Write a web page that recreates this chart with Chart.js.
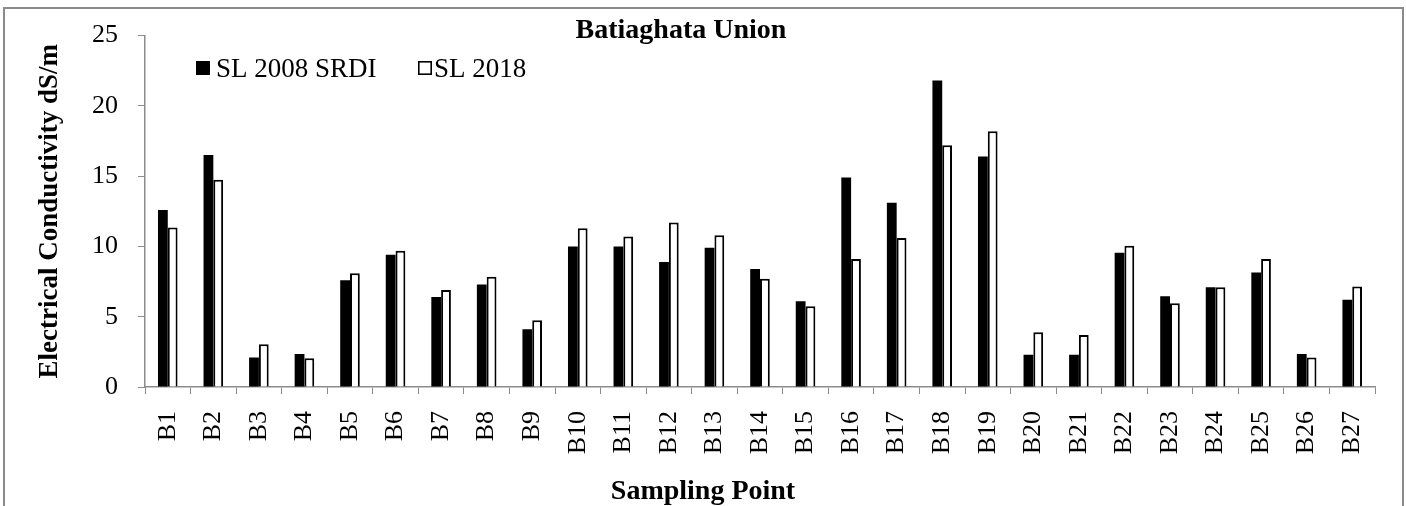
<!DOCTYPE html>
<html>
<head>
<meta charset="utf-8">
<script src="https://cdn.jsdelivr.net/npm/chart.js@4"></script>
<style>
  html, body { margin: 0; padding: 0; background: #fff; }
  #wrap { position: relative; width: 1406px; height: 506px; overflow: hidden; }
  #frame { position: absolute; left: 3px; top: 7px; width: 1397px; height: 600px; border: 2px solid #8a8a8a; pointer-events: none; }
</style>
</head>
<body>
<div id="wrap">
  <canvas id="chart" width="1406" height="506"></canvas>
  <div id="frame"></div>
</div>
<script>
const categories = ['B1', 'B2', 'B3', 'B4', 'B5', 'B6', 'B7', 'B8', 'B9', 'B10', 'B11', 'B12', 'B13', 'B14',
    'B15', 'B16', 'B17', 'B18', 'B19', 'B20', 'B21', 'B22', 'B23', 'B24', 'B25', 'B26', 'B27'];
const sl2008 = [12.6, 16.5, 2.1, 2.35, 7.6, 9.4, 6.4, 7.3, 4.1, 10.0, 10.0, 8.9, 9.9, 8.4,
    6.1, 14.9, 13.1, 21.8, 16.4, 2.3, 2.3, 9.55, 6.45, 7.1, 8.15, 2.35, 6.2];
const sl2018 = [11.35, 14.75, 3.05, 2.05, 8.1, 9.7, 6.9, 7.85, 4.75, 11.3, 10.7, 11.7, 10.8, 7.7,
    5.75, 9.1, 10.6, 17.2, 18.2, 3.9, 3.7, 10.05, 5.95, 7.1, 9.1, 2.1, 7.15];
const yTicks = [0, 5, 10, 15, 20, 25];
const seriesNames = ['SL 2008 SRDI', 'SL 2018'];

const chartTitle = 'Batiaghata Union';
const xTitle = 'Sampling Point';
const yTitle = 'Electrical Conductivity dS/m';

const serif = '"Liberation Serif", "Times New Roman", serif';
const axisGrey = '#8c8c8c';

// title, legend and x axis title sit inside the frame, drawn on top
const overlay = {
    id: 'overlay',
    afterDraw(chart) {
        const ctx = chart.ctx;
        ctx.save();
        ctx.fillStyle = '#000';
        ctx.textBaseline = 'alphabetic';
        ctx.textAlign = 'center';
        ctx.font = 'bold 28px ' + serif;
        ctx.fillText(chartTitle, 681, 38);
        ctx.fillText(xTitle, 703, 499);

        const legendX = [196, 418];
        const textGap = [20, 16];
        ctx.font = '27px ' + serif;
        ctx.textAlign = 'left';
        chart.data.datasets.forEach((ds, i) => {
            const x = legendX[i];
            ctx.fillStyle = ds.backgroundColor;
            ctx.fillRect(x, 61, 14, 14);
            if (ds.borderWidth) {
                ctx.strokeStyle = ds.borderColor;
                ctx.lineWidth = 1.6;
                ctx.strokeRect(x + 0.8, 61.8, 12.4, 12.4);
            }
            ctx.fillStyle = '#000';
            ctx.fillText(ds.label, x + textGap[i], 77);
        });
        ctx.restore();
    }
};

const data = {
    labels: categories,
    datasets: [
        {
            label: seriesNames[0],
            data: sl2008,
            backgroundColor: '#000000',
            borderWidth: 0,
        },
        {
            label: seriesNames[1],
            data: sl2018,
            backgroundColor: '#ffffff',
            borderColor: '#000000',
            borderWidth: 2,
        }
    ]
};

const config = {
    type: 'bar',
    data: data,
    plugins: [overlay],
    options: {
        responsive: false,
        devicePixelRatio: 1,
        animation: false,
        layout: {
            padding: { left: 0, right: 31, top: 30, bottom: 0 }
        },
        datasets: {
            bar: {
                categoryPercentage: 0.43,
                barPercentage: 1.0,
            }
        },
        plugins: {
            legend: { display: false },
            title: { display: false },
            tooltip: { enabled: false },
        },
        scales: {
            x: {
                grid: {
                    display: true,
                    drawOnChartArea: false,
                    drawTicks: true,
                    tickLength: 7,
                    color: axisGrey,
                    offset: true,
                },
                border: { display: true, color: axisGrey, width: 1.5 },
                ticks: {
                    color: '#000',
                    font: { family: serif, size: 26 },
                    minRotation: 90,
                    maxRotation: 90,
                    autoSkip: false,
                    padding: 17,
                },
                afterFit: (scale) => { scale.height = 119; },
            },
            y: {
                min: 0,
                max: 25,
                grid: {
                    display: true,
                    drawOnChartArea: false,
                    drawTicks: true,
                    tickLength: 7,
                    color: axisGrey,
                },
                border: { display: true, color: axisGrey, width: 1.5 },
                ticks: {
                    color: '#000',
                    font: { family: serif, size: 26 },
                    padding: 20,
                },
                afterBuildTicks: (scale) => {
                    scale.ticks = yTicks.map(v => ({ value: v }));
                },
                title: {
                    display: true,
                    text: yTitle,
                    color: '#000',
                    font: { family: serif, size: 27, weight: 'bold' },
                    padding: { top: 34, bottom: 0 },
                },
                afterFit: (scale) => { scale.width = 145; },
            }
        }
    },
};

const barChart = new Chart(document.getElementById('chart'), config);
</script>
</body>
</html>
